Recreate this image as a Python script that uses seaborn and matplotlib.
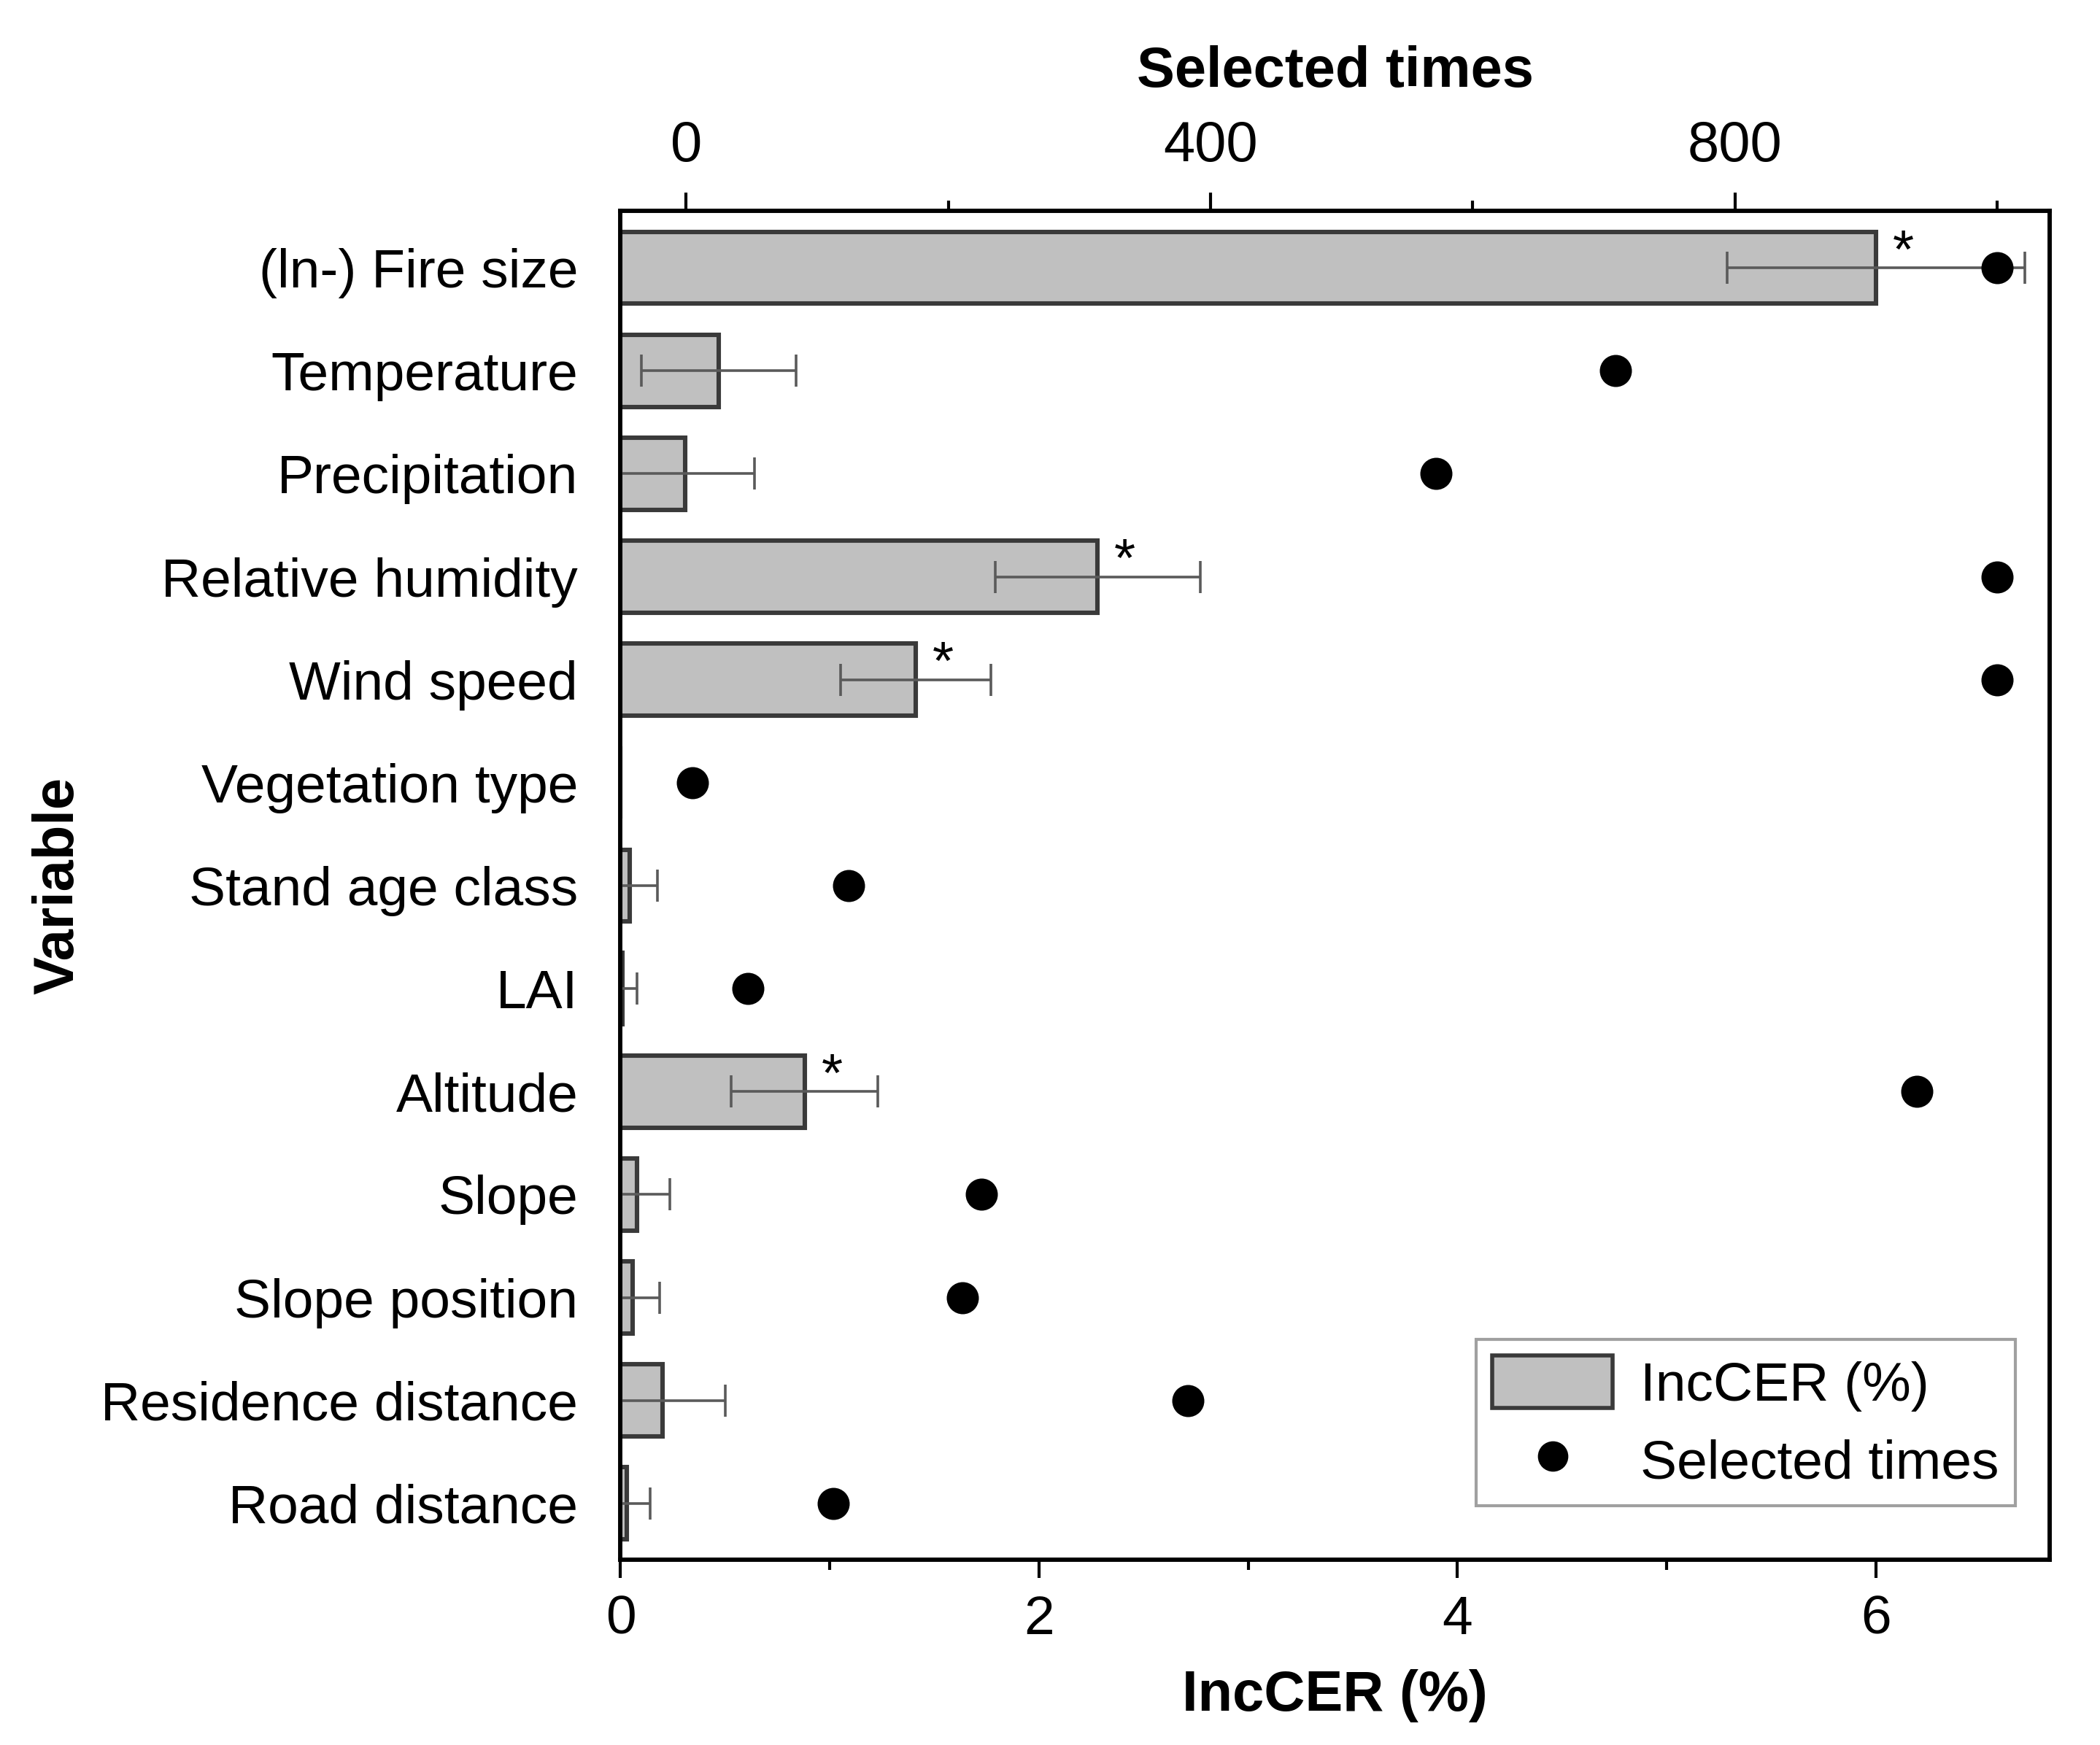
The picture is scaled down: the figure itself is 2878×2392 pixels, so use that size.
import numpy as np
import pandas as pd
import matplotlib
matplotlib.use("Agg")
import matplotlib.pyplot as plt
from matplotlib.patches import Patch
from matplotlib.lines import Line2D
from matplotlib.ticker import MultipleLocator
import seaborn as sns

# 数据
variables = ["(ln-) Fire size", "Temperature", "Precipitation", "Relative humidity",
             "Wind speed", "Vegetation type", "Stand age class", "LAI", "Altitude",
             "Slope", "Slope position", "Residence distance", "Road distance"]
inccer = [6.00, 0.47, 0.31, 2.28, 1.41, 0.0, 0.045, 0.01, 0.88, 0.077, 0.058, 0.20, 0.03]
inccer_err = [0.71, 0.37, 0.33, 0.49, 0.36, 0.0, 0.13, 0.07, 0.35, 0.16, 0.13, 0.30, 0.11]
selected_times = [1000, 709, 572, 1000, 1000, 5, 124, 47, 939, 225, 211, 383, 112]
significant = [True, False, False, True, True, False, False, False, True, False, False, False, False]

df = pd.DataFrame({"Variable": variables, "IncCER": inccer})

sns.set_style("white")
plt.rcParams['font.family'] = ['Liberation Sans', 'DejaVu Sans']
plt.rcParams['text.color'] = 'black'
plt.rcParams['axes.labelcolor'] = 'black'
plt.rcParams['xtick.color'] = 'black'
plt.rcParams['ytick.color'] = 'black'

fig = plt.figure(figsize=(14.39, 11.96), dpi=200)
ax = fig.add_axes([0.2955, 0.106, 0.6805, 0.773])

sns.barplot(data=df, x="IncCER", y="Variable", orient="h", color="#c0c0c0",
            saturation=1, edgecolor="#3a3a3a", linewidth=2.2, width=0.7,
            errorbar=None, ax=ax)
ypos = np.arange(len(variables))
ax.errorbar(inccer, ypos, xerr=inccer_err, fmt="none", ecolor="#5a5a5a",
            elinewidth=1.3, capsize=8, capthick=1.3, zorder=3)

# 显著性星号
for i, (v, s) in enumerate(zip(inccer, significant)):
    if s:
        ax.text(v + 0.08, i - 0.14, "*", fontsize=27, ha="left", va="center", color="black")

ax.set_xlim(0, 6.83)
ax.set_ylim(len(variables) - 0.5 + 0.05, -0.5 - 0.05)
ax.xaxis.set_major_locator(MultipleLocator(2))
ax.xaxis.set_minor_locator(MultipleLocator(1))
ax.set_xlabel("IncCER (%)", fontsize=28, fontweight="bold", labelpad=12)
ax.set_ylabel("Variable", fontsize=28, fontweight="bold", labelpad=8)
ax.tick_params(axis="x", which="major", direction="out", length=9, width=1.5, labelsize=27, pad=8)
ax.tick_params(axis="x", which="minor", direction="out", length=5, width=1.5)
ax.tick_params(axis="y", which="major", direction="out", length=9, width=1.5, labelsize=27, pad=12)
for sp in ax.spines.values():
    sp.set_visible(True)
    sp.set_color("black")
    sp.set_linewidth(2)

# 顶部坐标轴：Selected times
ax2 = ax.twiny()
ax2.scatter(selected_times, ypos, s=220, color="black", zorder=4)
ax2.set_xlim(-50, 1040)
ax2.xaxis.set_major_locator(MultipleLocator(400))
ax2.xaxis.set_minor_locator(MultipleLocator(200))
ax2.set_xlabel("Selected times", fontsize=28, fontweight="bold", labelpad=16)
ax2.tick_params(axis="x", which="major", direction="out", length=9, width=1.5, labelsize=28, pad=10)
ax2.tick_params(axis="x", which="minor", direction="out", length=5, width=1.5)
for sp in ax2.spines.values():
    sp.set_color("black")
    sp.set_linewidth(2)

handles = [Patch(facecolor="#c0c0c0", edgecolor="#3a3a3a", linewidth=2, label="IncCER (%)"),
           Line2D([0], [0], marker="o", color="none", markerfacecolor="black",
                  markeredgecolor="black", markersize=14, label="Selected times")]
leg = ax2.legend(handles=handles, loc="lower right", bbox_to_anchor=(0.995, 0.02),
                 fontsize=27, frameon=True, fancybox=False, handlelength=2.2,
                 handleheight=1.1, labelspacing=0.4, borderpad=0.3, handletextpad=0.5)
leg.get_frame().set_edgecolor("#888888")
leg.get_frame().set_linewidth(1.5)

fig.savefig("out.png", dpi=200)
